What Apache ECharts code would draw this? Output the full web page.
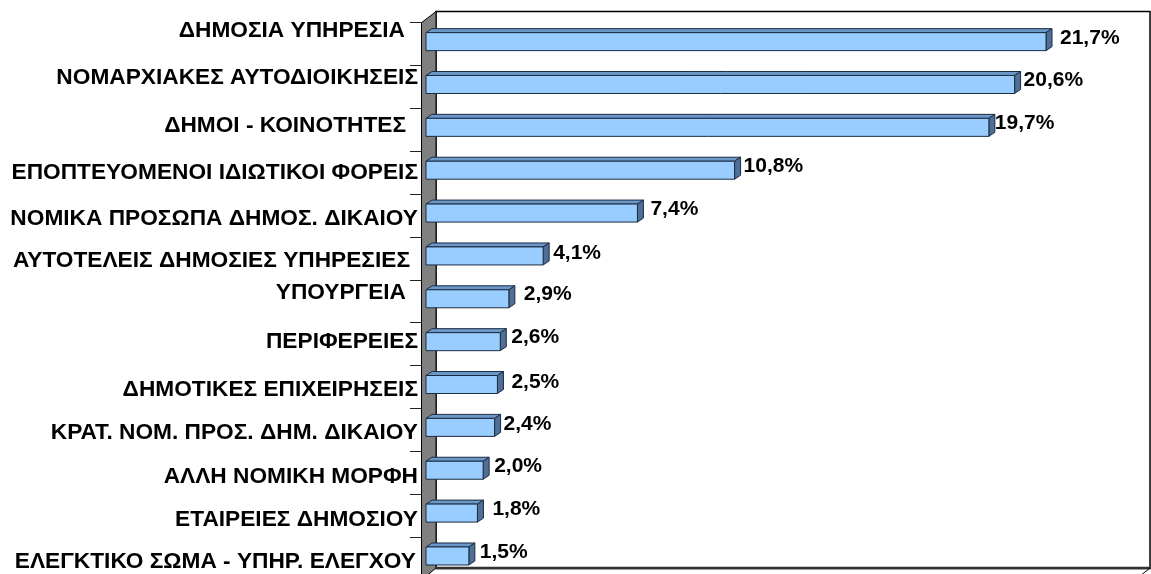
<!DOCTYPE html>
<html>
<head>
<meta charset="utf-8">
<style>html,body{margin:0;padding:0;background:#fff}#chart{width:1151px;height:574px}</style>
<script src="https://cdn.jsdelivr.net/npm/echarts@6/dist/echarts.min.js"></script>
</head>
<body>
<div id="chart"></div>
<script>
// data
const categories = [
    'ΔΗΜΟΣΙΑ ΥΠΗΡΕΣΙΑ', 'ΝΟΜΑΡΧΙΑΚΕΣ ΑΥΤΟΔΙΟΙΚΗΣΕΙΣ', 'ΔΗΜΟΙ - ΚΟΙΝΟΤΗΤΕΣ',
    'ΕΠΟΠΤΕΥΟΜΕΝΟΙ ΙΔΙΩΤΙΚΟΙ ΦΟΡΕΙΣ', 'ΝΟΜΙΚΑ ΠΡΟΣΩΠΑ ΔΗΜΟΣ. ΔΙΚΑΙΟΥ', 'ΑΥΤΟΤΕΛΕΙΣ ΔΗΜΟΣΙΕΣ ΥΠΗΡΕΣΙΕΣ',
    'ΥΠΟΥΡΓΕΙΑ', 'ΠΕΡΙΦΕΡΕΙΕΣ', 'ΔΗΜΟΤΙΚΕΣ ΕΠΙΧΕΙΡΗΣΕΙΣ', 'ΚΡΑΤ. ΝΟΜ. ΠΡΟΣ. ΔΗΜ. ΔΙΚΑΙΟΥ',
    'ΑΛΛΗ ΝΟΜΙΚΗ ΜΟΡΦΗ', 'ΕΤΑΙΡΕΙΕΣ ΔΗΜΟΣΙΟΥ', 'ΕΛΕΓΚΤΙΚΟ ΣΩΜΑ - ΥΠΗΡ. ΕΛΕΓΧΟΥ'
];
const values = [21.7, 20.6, 19.7, 10.8, 7.4, 4.1, 2.9, 2.6, 2.5, 2.4, 2.0, 1.8, 1.5];

// hand placed labels, the original has them nudged one by one
const catRight = [405, 418, 406, 418, 418, 410, 406, 418, 418, 418, 418, 418, 416];
const catDy = [-11, -7, -2, 3, 6, 5, -6, 0, 5, 5, 6, 7, 6];
const valDx = [8, 3, 0, 3, 7, 4, 9, 5, 8, 3, 5, 9, 5];
const valDy = [-3.5, -4, -4, -4, -4, -3, -5, -4.5, -2, -3, -4, -4, -4];

const CAT_FONT = 'bold 22.7px "Liberation Sans", Arial, sans-serif';
const VAL_FONT = 'bold 21px "Liberation Sans", Arial, sans-serif';
const DEPTH_X = 6, DEPTH_Y = 4, BAR_H = 18, BAR_SHIFT = -2.5;
const EDGE = '#1c2c40';

function renderBar(params, api) {
    const i = api.value(1);
    const v = api.value(0);
    const start = api.coord([0, i]);
    const end = api.coord([v, i]);
    const x0 = start[0], x1 = end[0];
    const yc = start[1] + BAR_SHIFT;
    const y0 = yc - BAR_H / 2, y1 = yc + BAR_H / 2;
    return {
        type: 'group',
        children: [
            {
                type: 'polygon',
                shape: {points: [[x0, y0], [x0 + DEPTH_X, y0 - DEPTH_Y], [x1 + DEPTH_X, y0 - DEPTH_Y], [x1, y0]]},
                style: {fill: '#6b97c9', stroke: EDGE, lineWidth: 1}
            },
            {
                type: 'polygon',
                shape: {points: [[x1, y0], [x1 + DEPTH_X, y0 - DEPTH_Y], [x1 + DEPTH_X, y1 - DEPTH_Y], [x1, y1]]},
                style: {fill: '#4f6f96', stroke: EDGE, lineWidth: 1}
            },
            {
                type: 'rect',
                shape: {x: x0, y: y0, width: x1 - x0, height: BAR_H},
                style: {fill: '#99ccff', stroke: EDGE, lineWidth: 1}
            },
            {
                type: 'text',
                style: {
                    text: v.toFixed(1).replace('.', ',') + '%',
                    x: x1 + DEPTH_X + valDx[i], y: yc + valDy[i],
                    align: 'left', verticalAlign: 'middle', font: VAL_FONT, fill: '#000'
                }
            },
            {
                type: 'text',
                style: {
                    text: categories[i],
                    x: catRight[i], y: yc + catDy[i],
                    align: 'right', verticalAlign: 'middle', font: CAT_FONT, fill: '#000'
                }
            }
        ]
    };
}

const chart = echarts.init(document.getElementById('chart'));

const option = {
    animation: false,
    backgroundColor: '#fff',
    // the box runs off the bottom of the page, so no shrinking to fit
    grid: {left: 426, top: 22.7, width: 714.3, height: 557.2, outerBoundsMode: 'none'},
    xAxis: {type: 'value', min: 0, max: 25, show: false},
    yAxis: {
        type: 'category',
        inverse: true,
        data: categories,
        axisLine: {show: false},
        axisTick: {show: true, length: 16, lineStyle: {color: '#222', width: 1}},
        axisLabel: {show: false},
        splitLine: {show: false}
    },
    // back wall and grey side wall of the 3d box
    graphic: [
        {
            type: 'rect', z: 0,
            shape: {x: 436, y: 11.5, width: 714, height: 557},
            style: {fill: '#fff', stroke: '#000', lineWidth: 1.5}
        },
        {
            type: 'polygon', z: 1,
            shape: {points: [[421.5, 22.7], [436, 11.5], [436, 568], [421.5, 580]]},
            style: {fill: '#808080', stroke: '#000', lineWidth: 1}
        },
        {
            type: 'line', z: 1,
            shape: {x1: 436, y1: 568, x2: 1150, y2: 568},
            style: {stroke: '#333', lineWidth: 2.5}
        },
        {
            type: 'line', z: 1,
            shape: {x1: 1150, y1: 568, x2: 1135, y2: 580},
            style: {stroke: '#000', lineWidth: 1}
        }
    ],
    series: [
        {
            type: 'custom',
            coordinateSystem: 'cartesian2d',
            clip: false,
            z: 5,
            renderItem: renderBar,
            encode: {x: 0, y: 1},
            data: values.map(function (v, i) { return [v, i]; })
        }
    ]
};

chart.setOption(option);
</script>
</body>
</html>
